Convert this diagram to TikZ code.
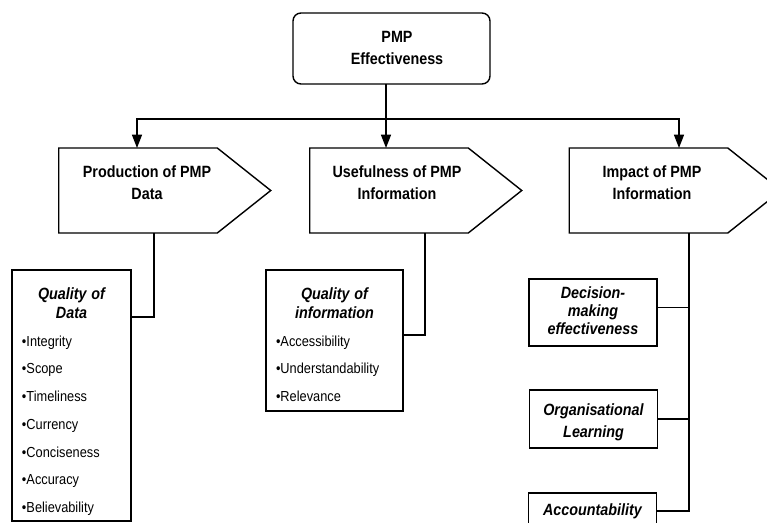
\documentclass[tikz,border=0pt]{standalone}
\usepackage{fontspec}
\setmainfont{Liberation Sans}[FakeStretch=0.88]
\usetikzlibrary{shapes,arrows.meta,positioning,calc}

\tikzset{
  box/.style={draw, very thick, inner sep=0pt, outer sep=0pt},
  stagebox/.style={box, signal, signal to=east, signal pointer angle=77, minimum width=63.6mm, minimum height=25.5mm},
  headtext/.style={align=center, font=\bfseries\fontsize{13.9}{18.8}\selectfont},
  subtitle/.style={align=center, font=\bfseries\itshape\fontsize{13.9}{16.2}\selectfont},
  listbox/.style={box, align=left, inner xsep=3mm, font=\fontsize{12.4}{23.7}\selectfont},
  impactbox/.style={box, minimum width=38.4mm, subtitle},
  link/.style={very thick},
  arr/.style={very thick, -{Triangle[width=3mm,length=4mm]}}
}

\begin{document}
\begin{tikzpicture}[x=0.3mm, y=-0.3mm]
        \useasboundingbox (0,0) rectangle (767,523);
        \clip (0,0) rectangle (767,523);

        % Top box
        \node[box, rounded corners=2.4mm, minimum width=59.1mm, minimum height=21.3mm] (eff) at (391.5,48.5) {};
        \node[headtext] (efftxt) at (397,48) {PMP\\Effectiveness};

        % Stages
        \node[stagebox] (prod) at (138,190.5) {};
        \node[headtext] (prodtxt) at (147,183) {Production of PMP\\Data};
        \node[stagebox] (use) at (389,190.5) {};
        \node[headtext] (usetxt) at (397,183) {Usefulness of PMP\\Information};
        \node[stagebox] (imp) at (648.5,190.5) {};
        \node[headtext] (imptxt) at (652,183) {Impact of PMP\\Information};

        % Split to stages
        \coordinate (split) at (386,119);
        \draw[link] (eff.south -| split) -- (split);
        \draw[arr] (split) -| ($(prod.north)+(-1,0)$);
        \draw[arr] (split) -- (split |- use.north);
        \draw[arr] (split) -| ($(imp.north)+(30.5,0)$);

        % Quality lists
        \node[listbox, text width=29.7mm, minimum height=75.3mm] (qdata) at (71.5,395.5) {%
          {\centering\bfseries\itshape\fontsize{13.9}{16.2}\selectfont\rule{0pt}{7.2mm}Quality of\\Data\par}
          •Integrity\\•Scope\\•Timeliness\\•Currency\\•Conciseness\\•Accuracy\\•Believability};
        \node[listbox, text width=35.1mm, minimum height=42.3mm] (qinfo) at (334.5,340.5) {%
          {\centering\bfseries\itshape\fontsize{13.9}{16.2}\selectfont\rule{0pt}{6mm}Quality of\\information\par}
          •Accessibility\\•Understandability\\•Relevance};
        \draw[link] ($(prod.south)+(16,0)$) |- ($(qdata.north east)+(0,47)$);
        \draw[link] ($(use.south)+(36,0)$) |- ($(qinfo.north east)+(0,65)$);

        % Impact boxes
        \node[impactbox, minimum height=20.1mm] (dec) at (593,312.5) {};
        \node[subtitle, font=\bfseries\itshape\fontsize{13.9}{15.4}\selectfont] (dectxt) at (593,311) {Decision-\\making\\effectiveness};
        \node[impactbox, minimum height=17.4mm, font=\bfseries\itshape\fontsize{13.9}{18.8}\selectfont] (org) at (593.5,419) {\rule{0pt}{5.4mm}Organisational\\Learning};
        \node[impactbox, minimum height=10.8mm] (acc) at (592.5,511) {Accountability};
        \draw[link] ($(imp.south)+(40.5,0)$) coordinate (spine) |- (acc.east);
        \draw[link] ($(dec.east)+(0,-5)$) coordinate (decin) -- (spine |- decin);
        \draw[link] (org.east) -- (spine |- org.east);

\end{tikzpicture}
\end{document}
